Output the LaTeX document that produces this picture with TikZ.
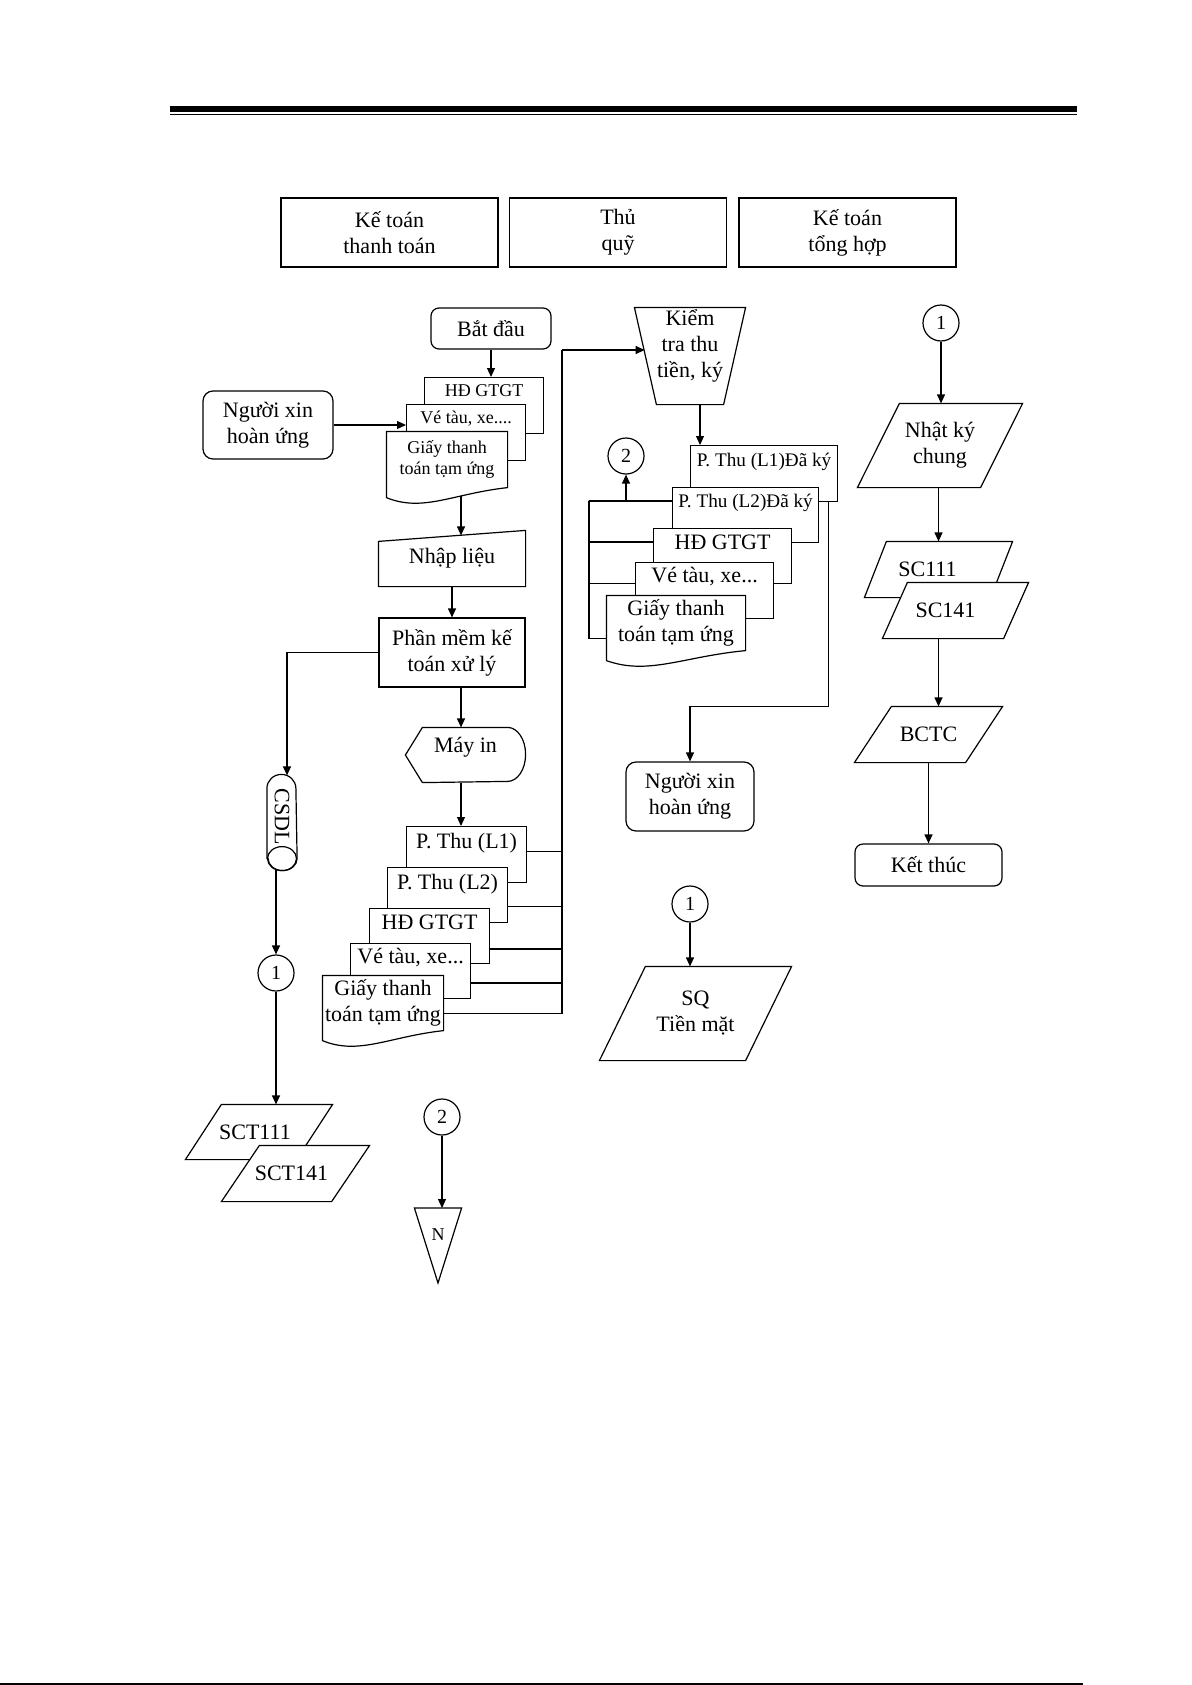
\documentclass[tikz,border=0pt]{standalone}
\usepackage{graphicx}
\usepackage{fontspec}
\setmainfont{Liberation Serif}
\usetikzlibrary{arrows.meta,positioning,shapes.geometric,calc}

\begin{document}
\begin{tikzpicture}[x=0.5pt,y=-0.5pt,line width=0.6pt]
	\tikzstyle{every node}=[font=\fontsize{11}{13}\selectfont]
	\tikzstyle{arr}=[-{Triangle[length=4.5pt,width=4pt]}]
	\tikzstyle{head}=[draw,line width=0.9pt,minimum width=108.5pt,minimum height=34.5pt,align=center,inner sep=0pt]
	\tikzstyle{term}=[draw,rounded corners=4pt,align=center,inner sep=0pt]
	\tikzstyle{proc}=[draw,align=center,inner sep=0pt]
	\tikzstyle{conn}=[draw,circle,minimum size=18pt,inner sep=0pt,font=\fontsize{10}{12}\selectfont]
	\tikzstyle{frame}=[inner sep=0pt]
	\tikzstyle{docback}=[draw,fill=white,anchor=north west,inner sep=0pt]
	\tikzstyle{docfront}=[fill=white,inner sep=0pt,align=center]
	\tikzstyle{smallfont}=[font=\fontsize{9}{10.5}\selectfont]
	\tikzstyle{pkfont}=[font=\fontsize{9.6}{11}\selectfont]

	\useasboundingbox (0,0) rectangle (1192,1685);

	% page rules
	\fill (170,106) rectangle (1077,112);
	\draw (170,114.5) -- (1077,114.5);
	\draw (0,1684) -- (1083,1684);

	% columns
	\node[head] (kttt) at (389.5,232.5) {Kế toán\\thanh toán};
	\node[head] (tq) at (618,232.5) {Thủ\\quỹ};
	\node[head] (ktth) at (847.5,232.5) {Kế toán\\tổng hợp};

	% ke toan thanh toan
	\node[term,minimum width=60pt,minimum height=20.5pt] (start) at (491,328.5) {Bắt đầu};
	\node[term,rounded corners=5pt,minimum width=65pt,minimum height=34pt] (nguoi1) at (268,425) {Người xin\\hoàn ứng};
	\node[docback,smallfont,minimum width=59.5pt,text height=9.5pt,text depth=18.5pt] (hd1) at (424,377) {HĐ GTGT};
	\node[docback,smallfont,minimum width=59.5pt,text height=9.5pt,text depth=18.5pt] (ve1) at (406,404) {Vé tàu, xe....};
	\node[docfront,smallfont,minimum width=60pt,minimum height=27.5pt] (giay1) at (447,459.5) {Giấy thanh\\toán tạm ứng};
	\node[frame,minimum width=73pt,minimum height=27.5pt] (nhap) at (452,558.5) {Nhập liệu};
	\node[proc,minimum width=73pt,minimum height=34.5pt] (phan) at (452,652.5) {Phần mềm kế\\toán xử lý};
	\node[frame,minimum width=59.5pt,minimum height=27pt,label={[name=mayintxt,yshift=4pt]center:Máy in}] (mayin) at (465.5,755) {};
	\node[frame,minimum width=14.5pt,minimum height=41.5pt] (csdl) at (282,816.5) {\rotatebox{-90}{CSDL}};

	\node[docback,minimum width=60pt,text height=11pt,text depth=17pt] (pt1) at (406,826) {P. Thu (L1)};
	\node[docback,minimum width=60pt,text height=11pt,text depth=16.5pt] (pt2) at (387,867) {P. Thu (L2)};
	\node[docback,minimum width=60pt,text height=10.5pt,text depth=17pt] (hd2) at (369,908) {HĐ GTGT};
	\node[docback,minimum width=60pt,text height=10pt,text depth=17.5pt] (ve2) at (350,943) {Vé tàu, xe...};
	\node[docfront,minimum width=60pt,minimum height=27pt] (giay2) at (383,1003) {Giấy thanh\\toán tạm ứng};

	\node[conn] (c1a) at (276,973) {1};
	\node[conn] (c2b) at (442,1117) {2};
	\node[smallfont,frame,minimum width=23pt,minimum height=26pt,anchor=north] (nconn) at (438,1208) {N};

	% thu quy
	\node[frame,minimum width=55pt,minimum height=48pt] (kiem) at (690,356) {};
	\filldraw[fill=white] (kiem.north west) -- (kiem.north east) -- ($(kiem.south east)+(-22,0)$) -- ($(kiem.south west)+(22,0)$) -- cycle;
	\node[align=center,inner sep=0pt] (kiemtxt) at (690,346) {Kiểm\\tra thu\\tiền, ký};
	\coordinate (kiemL) at ($(kiem.center)+(-45.4,-6)$);
	\node[conn] (c2a) at (626,456) {2};
	\node[docback,pkfont,minimum width=73.5pt,text height=10.5pt,text depth=17.5pt] (pk1) at (690,445) {P. Thu (L1)Đã ký};
	\node[docback,pkfont,minimum width=73pt,text height=10pt,text depth=17.5pt] (pk2) at (672,487) {P. Thu (L2)Đã ký};
	\node[docback,minimum width=69pt,text height=10.5pt,text depth=17pt] (hd3) at (653,528) {HĐ GTGT};
	\node[docback,minimum width=69pt,text height=10pt,text depth=18pt] (ve3) at (635,562) {Vé tàu, xe...};
	\node[docfront,minimum width=69pt,minimum height=27pt] (giay3) at (676,623) {Giấy thanh\\toán tạm ứng};
	\node[term,rounded corners=5pt,minimum width=64pt,minimum height=34.5pt] (nguoi2) at (690,796.5) {Người xin\\hoàn ứng};
	\node[conn] (c1b) at (690,904) {1};

	% ke toan tong hop
	\node[conn] (c1c) at (941,323) {1};
	\node[term,minimum width=73.5pt,minimum height=21pt] (ketthuc) at (928.5,865) {Kết thúc};

	% sheets (parallelograms): name/x/y/width/height/slant/text shift/text
	\foreach \n/\x/\y/\w/\h/\s/\dx/\t in {
		sct111/259/1132/73pt/27pt/36/-4/SCT111,
		sct141/295.5/1173.5/73.5pt/27.5pt/38/-4/SCT141,
		sq/695.5/1013.5/95.5pt/46.5pt/46/0/{SQ\\Tiền mặt},
		nhat/940/445.5/82pt/41.5pt/42/0/{Nhật ký\\chung},
		sc111/938.5/569.5/73.5pt/27.5pt/22/-11/SC111,
		sc141/955.5/610.5/72.5pt/27.5pt/25/-10/SC141,
		bctc/928.5/734.5/73.5pt/27.5pt/37/0/BCTC}
	{
		\node[frame,minimum width=\w,minimum height=\h] (\n) at (\x,\y) {};
		\filldraw[fill=white] (\n.south west) -- ($(\n.north west)+(\s,0)$) -- (\n.north east) -- ($(\n.south east)+(-\s,0)$) -- cycle;
		\node[align=center,inner sep=0pt] (t\n) at ($(\n.center)+(\dx,0)$) {\t};
	}

	% outlines of the drawn symbols
	\draw (nhap.south west) -- ($(nhap.north west)+(0,11)$) -- (nhap.north east) -- (nhap.south east) -- cycle;
	\draw (mayin.west) -- ($(mayin.north west)+(17,0)$) -- ($(mayin.north east)+(-18,0)$)
		arc[start angle=90,end angle=-90,x radius=9pt,y radius=13.5pt] -- ($(mayin.south west)+(17,0)$) -- cycle;
	\draw (csdl.south west) -- ($(csdl.north west)+(0,14)$) arc[start angle=180,end angle=0,x radius=7.25pt,y radius=7pt]
		-- (csdl.south east) arc[start angle=0,end angle=-180,x radius=7.25pt,y radius=6pt] -- cycle;
	\draw (csdl.south) ellipse [x radius=7.25pt,y radius=6pt];
	\draw (nconn.north west) -- (nconn.north east) -- ($(nconn.north)+(0,75)$) -- cycle;
	\foreach \d in {giay1,giay2,giay3}
		\draw (\d.north west) -- (\d.north east) -- (\d.south east)
			.. controls ($(\d.south west)!0.55!(\d.south east)+(0,6)$) and ($(\d.south west)!0.3!(\d.south east)+(0,25)$)
			.. ($(\d.south west)+(0,10)$) -- cycle;

	% connectors
	\coordinate (colA) at (461,0);
	\draw[arr] (start.south) -- (start.south |- hd1.north);
	\draw[arr] (nguoi1.east) -- (nguoi1.east -| ve1.west);
	\draw[arr] ($(colA |- giay1.south)+(0,8)$) -- ($(colA |- nhap.north)+(0,5)$);
	\draw[arr] (nhap.south) -- (phan.north);
	\draw[arr] (phan.west) -| ($(csdl.north)+(5,1)$);
	\draw[arr] (colA |- phan.south) -- (colA |- mayin.north);
	\draw[arr] (colA |- mayin.south) -- (colA |- pt1.north);
	\draw[arr] ($(csdl.south)+(-6,11)$) -- (c1a.north);
	\draw[arr] (c1a.south) -- (c1a.south |- sct111.north);
	\draw[arr] (c2b.south) -- (c2b.south |- nconn.north);

	\coordinate (busT) at (562,350);
	\foreach \n/\f in {pt1/0.45,pt2/0.7,hd2/0.73,ve2/0.71,giay2/0.69}
		\draw ($(\n.north east)!\f!(\n.south east)$) -| (busT);
	\draw[arr] (busT) -- (kiemL);

	\coordinate (brk) at (589,501);
	\foreach \n/\f in {pk2/0.25,hd3/0.25,ve3/0.375,giay3/0.78}
		\draw ($(\n.north west)!\f!(\n.south west)$) -| (brk);
	\draw[arr] (c2a.south |- brk) -- (c2a.south);
	\draw[arr] ($(kiem.south)+(10,0)$) -- ($(kiem.south |- pk1.north)+(10,0)$);
	\draw[arr] ($(pk1.south east)+(-10,0)$) |- ($(nguoi2.north)+(0,-55)$) -- (nguoi2.north);
	\draw[arr] (c1b.south) -- (c1b.south |- sq.north);

	\draw[arr] (c1c.south) -- (c1c.south |- nhat.north);
	\draw[arr] (sc111.north |- nhat.south) -- (sc111.north);
	\draw[arr] (sc111.north |- sc141.south) -- (sc111.north |- bctc.north);
	\draw[arr] (bctc.south) -- (ketthuc.north);
\end{tikzpicture}
\end{document}
